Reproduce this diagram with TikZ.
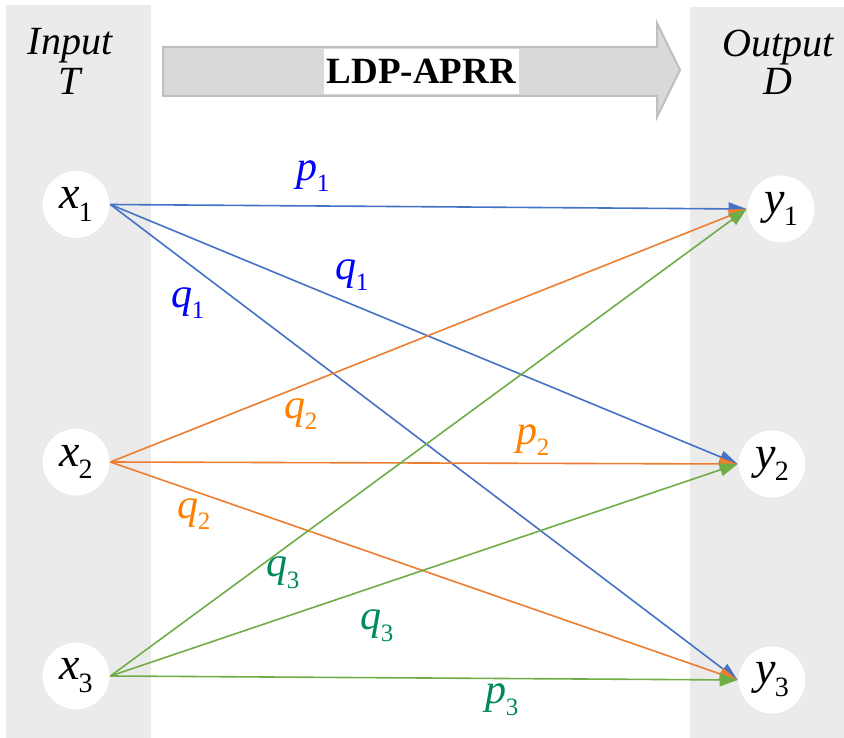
\documentclass[tikz,border=0pt]{standalone}
\usepackage{fontspec}
\setmainfont{Liberation Serif}
\usetikzlibrary{arrows.meta}
\definecolor{panel}{HTML}{EBEBEB}
\definecolor{arrfill}{HTML}{D9D9D9}
\definecolor{arrline}{HTML}{BFBFBF}
\definecolor{circline}{HTML}{E3E8F2}
\definecolor{bedge}{HTML}{4472C4}
\definecolor{oedge}{HTML}{ED7D31}
\definecolor{gedge}{HTML}{70AD47}
\definecolor{blab}{HTML}{0000FF}
\definecolor{olab}{HTML}{FF8000}
\definecolor{glab}{HTML}{008A5A}
\newcommand{\sv}[4]{{\fontsize{#3}{#3}\selectfont\textit{#1}\kern-0.02em\raisebox{-0.28em}{\fontsize{#4}{#4}\selectfont\upshape #2}}}
\newcommand{\nl}[2]{\sv{#1}{#2}{46}{28}}
\newcommand{\el}[2]{\sv{#1}{#2}{42}{25}}
\tikzset{
  vnode/.style={circle, fill=white, draw=circline, line width=0.8pt, minimum size=68pt, inner sep=0pt},
  edge/.style={line width=1.6pt, -{Triangle[length=18pt,width=13pt]}},
  be/.style={edge, draw=bedge, fill=bedge},
  oe/.style={edge, draw=oedge, fill=oedge},
  ge/.style={edge, draw=gedge, fill=gedge},
  elab/.style={inner sep=0pt},
  head/.style={inner sep=0pt, font=\fontsize{40}{40}\selectfont\itshape}
}
\begin{document}
\begin{tikzpicture}[x=1pt,y=-1pt]
\useasboundingbox (0,0) rectangle (844,738);
\fill[panel] (6,5) rectangle (151,738);
\fill[panel] (690,7) rectangle (844,738);
% big arrow
\draw[fill=arrfill, draw=arrline, line width=2pt, line join=miter]
  (163,47) -- (657,47) -- (657,23) -- (680,70) -- (657,117) -- (657,96) -- (163,96) -- cycle;
\node[fill=white, minimum width=195pt, minimum height=45pt, inner sep=0pt] (title) at (421.5,71.5)
  {\fontsize{37}{37}\selectfont\bfseries LDP-APRR};
% headers
\node[head] (in1) at (70,46) {Input};
\node[head] (in2) at (70,81) {T};
\node[head] (out1) at (778,48) {Output};
\node[head] (out2) at (778,81) {D};
% nodes
\node[vnode] (x1) at (76,204.5) {\nl{x}{1}};
\node[vnode] (x2) at (76,462) {\nl{x}{2}};
\node[vnode] (x3) at (76,676) {\nl{x}{3}};
\node[vnode] (y1) at (781,209) {\nl{y}{1}};
\node[vnode] (y2) at (772,464) {\nl{y}{2}};
\node[vnode] (y3) at (772,680) {\nl{y}{3}};
% edges
\draw[be] (x1.east) -- (y1.west);
\draw[be] (x1.east) -- (y2.west);
\draw[be] (x1.east) -- (y3.west);
\draw[oe] (x2.east) -- (y1.west);
\draw[oe] (x2.east) -- (y2.west);
\draw[oe] (x2.east) -- (y3.west);
\draw[ge] (x3.east) -- (y1.west);
\draw[ge] (x3.east) -- (y2.west);
\draw[ge] (x3.east) -- (y3.west);
% labels
\node[elab, text=blab] (lp1) at (313,176) {\el{p}{1}};
\node[elab, text=blab] (lq1a) at (352,275) {\el{q}{1}};
\node[elab, text=blab] (lq1b) at (188,303) {\el{q}{1}};
\node[elab, text=olab] (lq2a) at (301,414) {\el{q}{2}};
\node[elab, text=olab] (lp2) at (533,440) {\el{p}{2}};
\node[elab, text=olab] (lq2b) at (194,514) {\el{q}{2}};
\node[elab, text=glab] (lq3a) at (283,573) {\el{q}{3}};
\node[elab, text=glab] (lq3b) at (377,626) {\el{q}{3}};
\node[elab, text=glab] (lp3) at (502,700) {\el{p}{3}};
\end{tikzpicture}
\end{document}
